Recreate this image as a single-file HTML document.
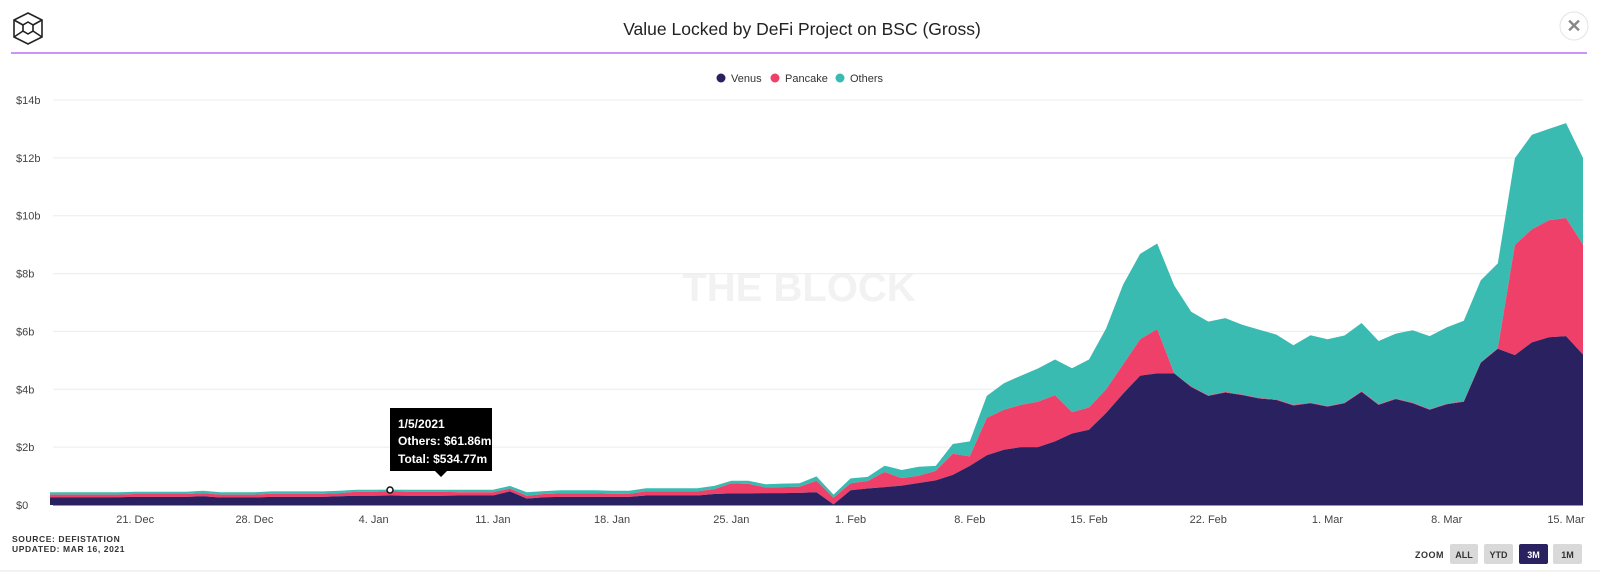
<!DOCTYPE html>
<html><head><meta charset="utf-8"><style>
html,body{margin:0;padding:0;background:#fff;width:1600px;height:586px;overflow:hidden;font-family:"Liberation Sans",sans-serif}
svg{display:block}
</style></head><body>
<svg id="chart" width="1600" height="586" xmlns="http://www.w3.org/2000/svg" font-family="Liberation Sans, sans-serif">
  <g fill="none" stroke="#222" stroke-width="1.6">
    <polygon points="28,13 42,20 42,37 28,44 14,37 14,20"/>
    <polygon points="28,22 33,25 33,31 28,34 23,31 23,25"/>
    <line x1="14" y1="20" x2="23" y2="25"/><line x1="42" y1="20" x2="33" y2="25"/>
    <line x1="14" y1="37" x2="23" y2="31"/><line x1="42" y1="37" x2="33" y2="31"/>
  </g>
  <text x="802" y="35" text-anchor="middle" font-size="17.5" fill="#222">Value Locked by DeFi Project on BSC (Gross)</text>
  <line x1="11" y1="53" x2="1587" y2="53" stroke="#a855f7" stroke-width="1.2"/>
  <g>
    <circle cx="1574" cy="26" r="14" fill="#fff" stroke="#e4e4e4"/>
    <text x="1574" y="32" text-anchor="middle" font-size="18" font-weight="bold" fill="#888">✕</text>
  </g>
  <g font-size="11" fill="#333">
    <g><circle cx="721" cy="78" r="4.5" fill="#2a2160"/><text x="731" y="82">Venus</text></g>
    <g><circle cx="775" cy="78" r="4.5" fill="#ef4069"/><text x="785" y="82">Pancake</text></g>
    <g><circle cx="840" cy="78" r="4.5" fill="#3abbb1"/><text x="850" y="82">Others</text></g>
  </g>
  <text x="799" y="301" text-anchor="middle" font-size="40" font-weight="bold" fill="#f2f2f2">THE BLOCK</text>
  <g id="grid"></g>
  <g id="areas"></g>
  <g id="xaxis"></g>
  <g>
    <circle cx="390" cy="490" r="3" fill="#fff" stroke="#111" stroke-width="1.5"/>
    <rect x="390" y="408" width="102" height="63" fill="#000"/>
    <polygon points="435,471 447,471 441,477" fill="#000"/>
    <text x="398" y="428" font-size="12" font-weight="bold" fill="#fff">1/5/2021</text>
    <text x="398" y="445" font-size="12" font-weight="bold" fill="#fff">Others: $61.86m</text>
    <text x="398" y="463" font-size="12" font-weight="bold" fill="#fff">Total: $534.77m</text>
  </g>
  <text x="12" y="542" font-size="8.5" font-weight="bold" fill="#333" letter-spacing="0.6">SOURCE: DEFISTATION</text>
  <text x="12" y="552" font-size="8.5" font-weight="bold" fill="#333" letter-spacing="0.6">UPDATED: MAR 16, 2021</text>
  <text x="1415" y="558" font-size="9" font-weight="bold" fill="#333" letter-spacing="0.5">ZOOM</text>
  <g><rect x="1450" y="544" width="28" height="20" rx="2" fill="#d9d9d9"/><text x="1464" y="558" text-anchor="middle" font-size="9" font-weight="bold" fill="#333">ALL</text></g>
  <g><rect x="1484" y="544" width="29" height="20" rx="2" fill="#d9d9d9"/><text x="1498.5" y="558" text-anchor="middle" font-size="9" font-weight="bold" fill="#333">YTD</text></g>
  <g><rect x="1519" y="544" width="29" height="20" rx="2" fill="#2a2160"/><text x="1533.5" y="558" text-anchor="middle" font-size="9" font-weight="bold" fill="#fff">3M</text></g>
  <g><rect x="1553" y="544" width="29" height="20" rx="2" fill="#d9d9d9"/><text x="1567.5" y="558" text-anchor="middle" font-size="9" font-weight="bold" fill="#333">1M</text></g>
  <line x1="0" y1="571" x2="1600" y2="571" stroke="#e6e6e6"/>
</svg>
<script>
const venus = [0.27,0.27,0.27,0.27,0.27,0.28,0.28,0.28,0.28,0.30,0.26,0.26,0.26,0.28,0.28,0.28,0.28,0.30,0.32,0.32,0.33,0.32,0.32,0.32,0.33,0.33,0.33,0.47,0.22,0.27,0.28,0.28,0.28,0.28,0.28,0.33,0.33,0.33,0.33,0.38,0.40,0.40,0.41,0.41,0.42,0.44,0.02,0.51,0.57,0.62,0.67,0.76,0.85,1.04,1.35,1.72,1.91,2.0,2.0,2.2,2.47,2.6,3.18,3.85,4.47,4.55,4.55,4.08,3.77,3.89,3.8,3.68,3.63,3.44,3.52,3.40,3.52,3.91,3.46,3.66,3.52,3.29,3.48,3.57,4.92,5.4,5.18,5.62,5.8,5.84,5.2];
const pancake = [0.09,0.09,0.09,0.09,0.09,0.10,0.10,0.10,0.10,0.11,0.10,0.10,0.10,0.11,0.11,0.11,0.11,0.11,0.14,0.14,0.14,0.14,0.14,0.14,0.11,0.11,0.11,0.10,0.10,0.11,0.12,0.12,0.12,0.11,0.11,0.14,0.14,0.14,0.14,0.17,0.35,0.33,0.20,0.21,0.21,0.40,0.23,0.24,0.26,0.52,0.26,0.25,0.33,0.73,0.33,1.29,1.38,1.46,1.57,1.6,0.74,0.77,0.82,1.01,1.26,1.53,0.0,0.02,0.02,0.02,0.02,0.02,0.02,0.02,0.02,0.02,0.02,0.02,0.02,0.02,0.02,0.02,0.02,0.02,0.02,0.02,3.81,3.91,4.04,4.08,3.8];
const others = [0.08,0.08,0.08,0.08,0.08,0.08,0.08,0.08,0.08,0.08,0.08,0.08,0.08,0.08,0.08,0.08,0.08,0.08,0.07,0.07,0.062,0.07,0.07,0.07,0.09,0.09,0.09,0.09,0.12,0.10,0.11,0.11,0.11,0.10,0.10,0.11,0.11,0.11,0.11,0.11,0.09,0.11,0.11,0.12,0.12,0.15,0.11,0.17,0.14,0.22,0.28,0.31,0.17,0.34,0.52,0.76,0.92,1.01,1.15,1.23,1.52,1.66,2.1,2.76,2.95,2.96,3.04,2.58,2.55,2.55,2.41,2.36,2.24,2.06,2.33,2.31,2.32,2.36,2.19,2.24,2.5,2.53,2.64,2.78,2.83,2.93,3.0,3.27,3.16,3.28,3.0];
const yTicks = [0,2,4,6,8,10,12,14];
const yTickLabels = ["$0","$2b","$4b","$6b","$8b","$10b","$12b","$14b"];
const xTickIdx = [5,12,19,26,33,40,47,54,61,68,75,82,89];
const xTickLabels = ["21. Dec","28. Dec","4. Jan","11. Jan","18. Jan","25. Jan","1. Feb","8. Feb","15. Feb","22. Feb","1. Mar","8. Mar","15. Mar"];

const NS = "http://www.w3.org/2000/svg";
const X0 = 50, X1 = 1583, Y0 = 505, Y14 = 100;
const n = venus.length;
function xs(i){ return X0 + i * (X1 - X0) / (n - 1); }
function ys(v){ return Y0 - v * (Y0 - Y14) / 14; }
function mk(tag, attrs){ const e = document.createElementNS(NS, tag); for (const k in attrs) e.setAttribute(k, attrs[k]); return e; }

const grid = document.getElementById('grid');
yTicks.forEach((t, k) => {
  const l = mk('line', {x1: 53, x2: X1, y1: ys(t), y2: ys(t), stroke: t === 0 ? '#333' : '#ececec', 'stroke-width': 1});
  
  
  grid.appendChild(l);
  const tx = mk('text', {x: 16, y: ys(t) + 4, 'font-size': 11, fill: '#444'});
  tx.textContent = yTickLabels[k];
  
  
  grid.appendChild(tx);
});

const areas = document.getElementById('areas');
const s1 = venus.map(v => v);
const s2 = venus.map((v, i) => v + pancake[i]);
const s3 = venus.map((v, i) => v + pancake[i] + others[i]);
function areaPath(top, bot){
  let d = '';
  top.forEach((v, i) => { d += (i ? 'L' : 'M') + xs(i).toFixed(1) + ',' + ys(v).toFixed(1); });
  for (let i = n - 1; i >= 0; i--) d += 'L' + xs(i).toFixed(1) + ',' + ys(bot ? bot[i] : 0).toFixed(1);
  return d + 'Z';
}
const aO = mk('path', {d: areaPath(s3, s2), fill: '#3abbb1'});


areas.appendChild(aO);
const aP = mk('path', {d: areaPath(s2, s1), fill: '#ef4069'});


areas.appendChild(aP);
const aV = mk('path', {d: areaPath(s1, null), fill: '#2a2160'});


areas.appendChild(aV);

const xa = document.getElementById('xaxis');
xTickIdx.forEach((idx, k) => {
  const tx = mk('text', {x: xs(idx), y: 523, 'font-size': 11, fill: '#444', 'text-anchor': 'middle'});
  tx.textContent = xTickLabels[k];
  
  
  xa.appendChild(tx);
});
</script>
</body></html>
